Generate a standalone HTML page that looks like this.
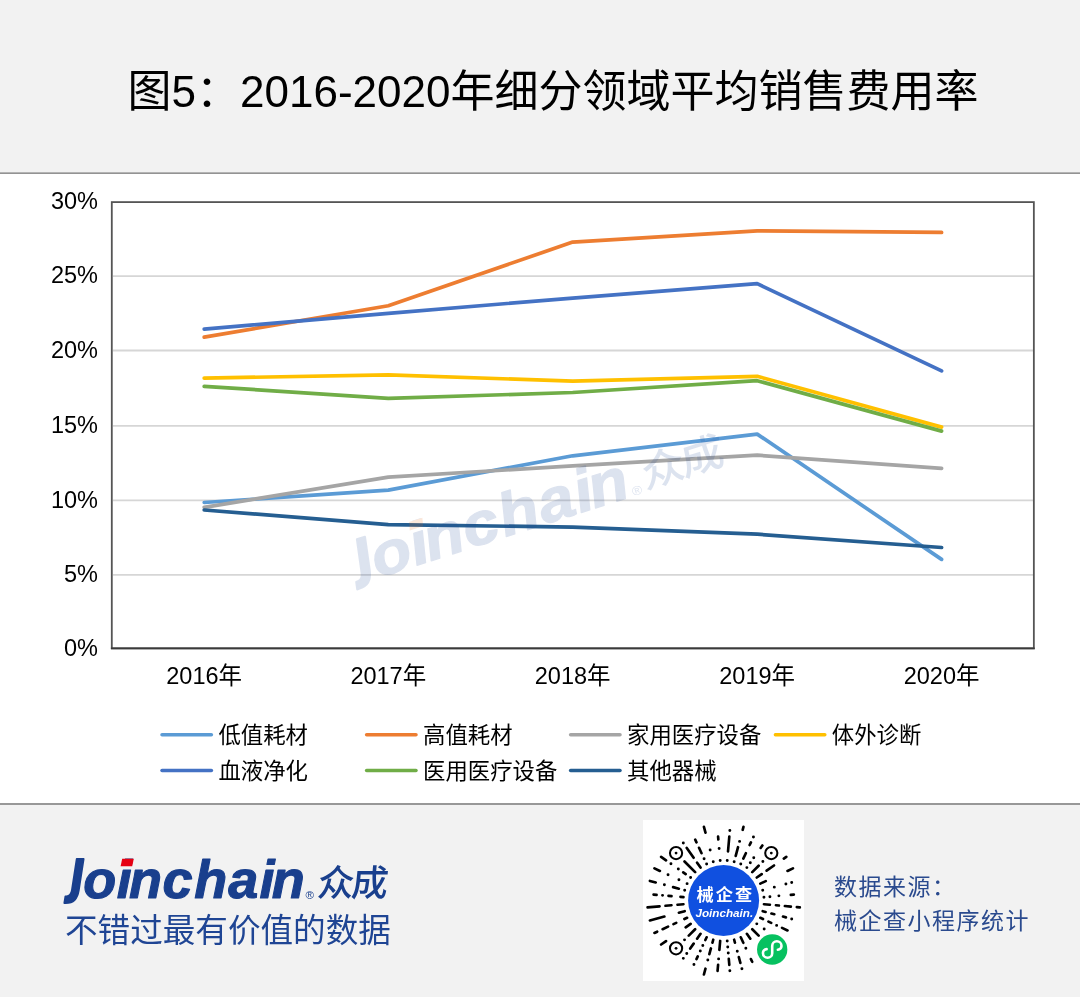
<!DOCTYPE html>
<html lang="zh-CN">
<head>
<meta charset="utf-8">
<title>图5：2016-2020年细分领域平均销售费用率</title>
<style>
html,body{margin:0;padding:0;}
body{width:1080px;height:997px;position:relative;overflow:hidden;background:#fff;font-family:"Liberation Sans","Noto Sans CJK SC",sans-serif;color:#000;}
.header{position:absolute;left:0;top:0;width:1080px;height:172px;background:#f2f2f2;border-bottom:2px solid #939393;}
.header::after{content:"";position:absolute;left:0;top:172px;width:1080px;height:1px;background:#b4b4b4;}
.title{position:absolute;left:127.6px;top:60px;margin:0;font-size:44px;line-height:64px;font-weight:400;white-space:nowrap;color:#000;}
.chart{position:absolute;left:0;top:174px;width:1080px;height:629px;background:#fff;}
.chart svg{display:block;}
.footer{position:absolute;left:0;top:803px;width:1080px;height:192px;background:#f2f2f2;border-top:2px solid #989898;}
.logo{position:absolute;left:0;top:0;display:block;}
.tagline{position:absolute;left:65px;top:104px;font-size:32.6px;line-height:44px;color:#1f4594;white-space:nowrap;}
.qr{position:absolute;left:643px;top:15px;width:161px;height:161px;background:#fff;}
.source{position:absolute;left:834px;top:66.4px;font-size:23px;line-height:33.6px;letter-spacing:1.5px;color:#2a4a8e;white-space:nowrap;}
</style>
</head>
<body>
<header class="header"><h1 class="title">图5：2016-2020年细分领域平均销售费用率</h1></header>
<main class="chart">
<svg width="1080" height="629" viewBox="0 0 1080 629" font-family="'Liberation Sans','Noto Sans CJK SC',sans-serif">
<g stroke="#d6d6d6" stroke-width="1.8">
<line x1="113" x2="1033" y1="102.1" y2="102.1"/>
<line x1="113" x2="1033" y1="176.5" y2="176.5"/>
<line x1="113" x2="1033" y1="251.9" y2="251.9"/>
<line x1="113" x2="1033" y1="326.4" y2="326.4"/>
<line x1="113" x2="1033" y1="400.8" y2="400.8"/>
</g>
<rect x="111.8" y="28.10" width="922.05" height="446.25" fill="none" stroke="#555" stroke-width="1.8"/>
<line x1="110.9" x2="1034.75" y1="474.35" y2="474.35" stroke="#3a3a3a" stroke-width="1.8"/>
<g fill="none" stroke-width="3.7" stroke-linecap="round" stroke-linejoin="round">
<polyline points="204.2,328.5 388.3,316.1 572.7,281.8 757.2,260.1 941.6,385.4" stroke="#5b9bd5"/>
<polyline points="204.2,163.1 388.3,131.7 572.7,68.1 757.2,56.8 941.6,58.4" stroke="#ed7d31"/>
<polyline points="204.2,333.3 388.3,303.2 572.7,291.9 757.2,281.2 941.6,294.4" stroke="#a5a5a5"/>
<polyline points="204.2,204.1 388.3,200.9 572.7,207.1 757.2,202.3 941.6,253.1" stroke="#ffc000"/>
<polyline points="204.2,155.1 388.3,139.3 572.7,124.1 757.2,109.7 941.6,196.9" stroke="#4472c4"/>
<polyline points="204.2,212.3 388.3,224.4 572.7,218.5 757.2,206.7 941.6,257.1" stroke="#70ad47"/>
<polyline points="204.2,336.0 388.3,350.6 572.7,353.1 757.2,360.2 941.6,373.5" stroke="#255e91"/>
</g>
<g transform="translate(357.1 415.9) rotate(-17.8) scale(1.208 1.107) translate(-64.06 -902.9)" fill="#1f4896" stroke="#1f4896" stroke-linejoin="round" opacity="0.15">
<text y="898.4" font-family="'Liberation Sans',sans-serif" font-weight="700" font-style="italic" font-size="54" stroke-width="1.1"><tspan x="70.6" y="893.1" font-family="'DejaVu Sans','Liberation Sans',sans-serif" font-size="46.3" textLength="14" lengthAdjust="spacingAndGlyphs" stroke-width="2">J</tspan><tspan x="83.3 116.7 129 162.5 194.3 228.2 259.4 271.7" y="898.4">oinchain</tspan></text>
<path d="M122.2 858.8h11.6l-1.6 7.5h-11.6z" fill="#f06a10" stroke="none"/>
<text x="305.6" y="898.6" font-family="'Liberation Sans',sans-serif" font-size="11.5" stroke="none">®</text>
<text x="316.6" y="895.8" font-family="'Liberation Sans','Noto Sans CJK SC',sans-serif" font-weight="500" font-size="36.5" letter-spacing="-2.6" stroke="none" transform="skewX(-6)" style="transform-origin:318px 895px">众成</text>
</g>
<g font-size="23.5" fill="#000">
<text x="98" y="35.3" text-anchor="end">30%</text>
<text x="98" y="109.3" text-anchor="end">25%</text>
<text x="98" y="183.7" text-anchor="end">20%</text>
<text x="98" y="259.1" text-anchor="end">15%</text>
<text x="98" y="333.6" text-anchor="end">10%</text>
<text x="98" y="408.0" text-anchor="end">5%</text>
<text x="98" y="481.5" text-anchor="end">0%</text>
<text x="204.2" y="510.2" text-anchor="middle">2016年</text>
<text x="388.3" y="510.2" text-anchor="middle">2017年</text>
<text x="572.7" y="510.2" text-anchor="middle">2018年</text>
<text x="757.2" y="510.2" text-anchor="middle">2019年</text>
<text x="941.6" y="510.2" text-anchor="middle">2020年</text>
</g>
<g font-size="22.4" fill="#000" stroke-width="3.5" stroke-linecap="round">
<line x1="162.0" x2="211.4" y1="560.8" y2="560.8" stroke="#5b9bd5"/><text x="218.4" y="569.0">低值耗材</text>
<line x1="366.6" x2="416.0" y1="560.8" y2="560.8" stroke="#ed7d31"/><text x="423.0" y="569.0">高值耗材</text>
<line x1="570.6" x2="620.0" y1="560.8" y2="560.8" stroke="#a5a5a5"/><text x="627.0" y="569.0">家用医疗设备</text>
<line x1="775.4" x2="824.8" y1="560.8" y2="560.8" stroke="#ffc000"/><text x="831.8" y="569.0">体外诊断</text>
<line x1="162.0" x2="211.4" y1="596.4" y2="596.4" stroke="#4472c4"/><text x="218.4" y="604.6">血液净化</text>
<line x1="366.6" x2="416.0" y1="596.4" y2="596.4" stroke="#70ad47"/><text x="423.0" y="604.6">医用医疗设备</text>
<line x1="570.6" x2="620.0" y1="596.4" y2="596.4" stroke="#255e91"/><text x="627.0" y="604.6">其他器械</text>
</g>
</svg>
</main>
<footer class="footer">
<svg class="logo" width="420" height="120" viewBox="0 805 420 120" fill="#193f8d" stroke="#193f8d" stroke-linejoin="round">
<text y="898.4" font-family="'Liberation Sans',sans-serif" font-weight="700" font-style="italic" font-size="54" stroke-width="1.1"><tspan x="70.6" y="893.1" font-family="'DejaVu Sans','Liberation Sans',sans-serif" font-size="46.3" textLength="14" lengthAdjust="spacingAndGlyphs" stroke-width="2">J</tspan><tspan x="83.3 116.7 129 162.5 194.3 228.2 259.4 271.7" y="898.4">oinchain</tspan></text>
<path d="M122.2 858.8h11.6l-1.6 7.5h-11.6z" fill="#e60012" stroke="none"/>
<text x="305.6" y="898.6" font-family="'Liberation Sans',sans-serif" font-size="11.5" stroke="none">®</text>
<text x="316.6" y="895.8" font-family="'Liberation Sans','Noto Sans CJK SC',sans-serif" font-weight="500" font-size="36.5" letter-spacing="-2.6" stroke="none" transform="skewX(-6)" style="transform-origin:318px 895px">众成</text>
</svg>
<div class="tagline">不错过最有价值的数据</div>
<div class="qr">
<svg width="161" height="161" viewBox="643 820 161 161">
<path d="M763.95 904.22L769.92 904.74M784.87 906.05L790.84 906.57M775.90 905.27L778.89 905.53M796.82 907.10L799.81 907.36M771.42 913.49L774.31 914.26M762.72 911.16L765.62 911.93M783.01 916.59L785.91 917.37M768.47 921.58L771.19 922.85M760.31 917.77L763.03 919.04M782.07 927.92L787.50 930.45M752.27 929.27L758.63 935.63M746.87 933.79L750.31 938.71M740.77 937.31L743.31 942.75M750.92 959.07L752.18 961.79M734.16 939.72L734.93 942.62M738.82 957.11L740.37 962.91M728.79 958.88L729.31 964.85M720.18 940.95L719.39 949.91M718.09 964.85L717.56 970.83M710.91 948.42L709.36 954.21M705.48 968.70L703.93 974.50M713.24 939.72L712.47 942.62M706.63 937.31L705.36 940.03M697.75 956.35L696.48 959.07M700.53 933.79L697.09 938.71M693.64 943.62L690.20 948.54M695.13 929.27L688.77 935.63M690.61 923.87L685.69 927.31M666.03 941.08L661.12 944.52M657.18 931.72L654.46 932.99M676.21 922.85L673.49 924.11M687.09 917.77L684.37 919.04M668.05 926.65L662.61 929.18M664.39 916.59L649.90 920.47M684.68 911.16L678.88 912.71M659.55 906.31L647.59 907.36M671.50 905.27L665.52 905.79M683.45 904.22L677.48 904.74M656.56 894.83L653.57 894.56M671.50 896.13L668.51 895.87M683.45 897.18L680.47 896.92M655.70 882.48L649.90 880.93M678.88 888.69L673.09 887.14M659.90 870.95L654.46 868.41M666.03 860.32L661.12 856.88M685.69 874.09L683.23 872.37M695.13 872.13L684.53 861.53M700.53 867.61L697.09 862.69M693.64 857.78L686.76 847.95M696.48 842.33L695.22 839.61M701.55 853.21L699.02 847.77M705.48 832.70L703.93 826.90M718.35 839.53L718.09 836.55M728.01 851.49L729.31 836.55M742.70 829.80L743.47 826.90M735.71 855.88L738.04 847.19M749.65 845.05L750.92 842.33M743.31 858.65L745.85 853.21M760.64 847.95L762.36 845.49M752.27 872.13L758.63 865.77M766.62 870.64L774.00 865.48M783.83 858.60L786.28 856.88M756.79 877.53L761.71 874.09M760.31 883.63L765.75 881.09M787.50 870.95L792.94 868.41M790.84 894.83L793.83 894.56" fill="none" stroke="#000" stroke-width="2.65" stroke-linecap="round"/>
<path d="M791.70 918.92h0M776.63 925.38h0M756.79 923.87h0M764.17 929.03h0M745.85 948.19h0M737.26 951.31h0M741.92 968.70h0M727.22 940.95h0M727.74 946.92h0M729.84 970.83h0M728.27 952.90h0M718.61 958.88h0M707.81 960.01h0M700.29 950.91h0M702.82 945.47h0M693.95 964.50h0M686.76 953.45h0M683.32 958.37h0M684.53 939.87h0M662.53 895.35h0M664.39 884.81h0M684.68 890.24h0M668.05 874.75h0M678.93 879.82h0M687.09 883.63h0M670.95 863.76h0M678.32 868.92h0M690.61 877.53h0M683.32 843.03h0M706.63 864.09h0M704.09 858.65h0M713.24 861.68h0M710.14 850.09h0M719.13 848.50h0M720.18 860.45h0M729.84 830.57h0M727.22 860.45h0M739.59 841.39h0M734.16 861.68h0M740.77 864.09h0M753.45 836.90h0M750.31 862.69h0M753.76 857.78h0M746.87 867.61h0M762.87 861.53h0M762.72 890.24h0M774.31 887.14h0M791.70 882.48h0M785.91 884.03h0M769.92 896.66h0M778.89 895.87h0M763.95 897.18h0" fill="none" stroke="#000" stroke-width="2.95" stroke-linecap="round"/>
<g fill="none" stroke="#000" stroke-width="2.05">
<circle cx="676.06" cy="853.06" r="6.1"/><circle cx="771.3" cy="853.06" r="6.1"/><circle cx="676.06" cy="948.3" r="6.1"/>
</g>
<g fill="#000"><circle cx="676.06" cy="853.06" r="1.4"/><circle cx="771.3" cy="853.06" r="1.4"/><circle cx="676.06" cy="948.3" r="1.4"/></g>
<circle cx="723.6" cy="900.5" r="35.5" fill="#1050e0"/>
<text x="725.4" y="900.6" text-anchor="middle" fill="#fff" font-family="'Liberation Sans','Noto Sans CJK SC',sans-serif" font-size="17.2" font-weight="700" letter-spacing="2">械企查</text>
<text x="724.3" y="916.9" text-anchor="middle" fill="#fff" font-family="'Liberation Sans',sans-serif" font-size="11.7" font-weight="700" font-style="italic">Joinchain.</text>
<circle cx="772.2" cy="949.5" r="15.15" fill="#07c160"/>
<path transform="translate(772.2 949.5)" d="M5.66 0.2A3.8 3.8 0 0 0 9.3 -3.53A4.65 4.65 0 0 0 0 -3.53L0 3.65A4.61 4.61 0 0 1 -9.22 3.65A3.8 3.8 0 0 1 -5.58 -0.4" fill="none" stroke="#fff" stroke-width="2.6" stroke-linecap="round"/>
</svg>
</div>
<div class="source">数据来源：<br>械企查小程序统计</div>
</footer>
</body>
</html>
